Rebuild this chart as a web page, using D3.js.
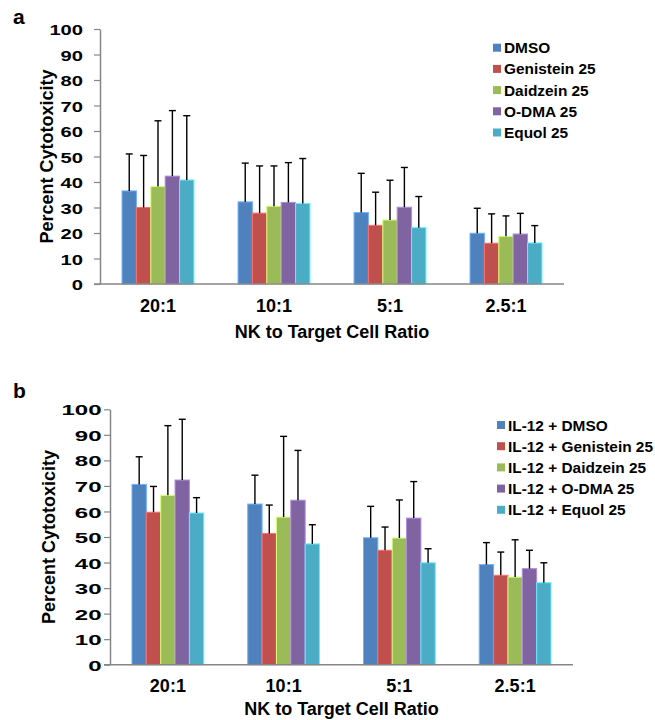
<!DOCTYPE html>
<html>
<head>
<meta charset="utf-8">
<script src="https://cdn.jsdelivr.net/npm/d3@7"></script>
<style>
  body { margin: 0; background: #fff; }
  svg { display: block; font-family: "Liberation Sans", Arial, sans-serif; font-weight: bold; }
</style>
</head>
<body>
<svg id="chart" width="655" height="720"></svg>
<script>
const ratios = ['20:1', '10:1', '5:1', '2.5:1'];
const yTicks = [0, 10, 20, 30, 40, 50, 60, 70, 80, 90, 100];
const colors = ['#4F81BD', '#C0504D', '#9BBB59', '#8064A2', '#4BACC6'];

// panel a
const namesA = ['DMSO', 'Genistein 25', 'Daidzein 25', 'O-DMA 25', 'Equol 25'];
const meansA = [
  [36.5, 32.2, 28.0, 19.9],
  [30.0, 27.8, 23.0, 16.0],
  [38.2, 30.5, 25.1, 18.7],
  [42.3, 32.0, 30.1, 19.6],
  [40.8, 31.6, 22.1, 16.1]
];
const sdA = [
  [14.5, 15.2, 15.4, 9.8],
  [20.4, 18.5, 13.0, 11.5],
  [25.8, 15.8, 15.6, 8.0],
  [25.7, 15.6, 15.6, 8.1],
  [25.2, 17.6, 12.2, 6.8]
];

// panel b
const namesB = ['IL-12 + DMSO', 'IL-12 + Genistein 25', 'IL-12 + Daidzein 25', 'IL-12 + O-DMA 25', 'IL-12 + Equol 25'];
const meansB = [
  [70.6, 62.9, 49.7, 39.2],
  [59.7, 51.4, 44.8, 35.0],
  [66.3, 57.8, 49.6, 34.3],
  [72.3, 64.4, 57.4, 37.6],
  [59.4, 47.3, 39.9, 32.1]
];
const sdB = [
  [10.8, 11.3, 12.3, 8.6],
  [10.1, 11.1, 9.1, 9.1],
  [27.3, 31.6, 14.9, 14.6],
  [23.8, 19.5, 14.3, 7.2],
  [6.0, 7.5, 5.5, 7.8]
];

const svg = d3.select('#chart');

function drawPanel(p) {
  const x0 = d3.scaleBand()
    .domain(ratios)
    .range([p.left, p.right])
    .paddingInner(0.38)
    .paddingOuter(0.19);

  const x1 = d3.scaleBand()
    .domain(p.names)
    .range([0, x0.bandwidth()]);

  const y = d3.scaleLinear()
    .domain([0, 100])
    .range([p.bottom, p.top]);

  const g = svg.append('g');

  // panel letter
  g.append('text')
    .attr('x', 13).attr('y', p.letterY)
    .attr('font-size', 21)
    .text(p.letter);

  // y axis
  const yAxis = g.append('g')
    .attr('transform', `translate(${p.left},0)`)
    .call(d3.axisLeft(y).tickValues(yTicks).tickSize(6).tickSizeOuter(0));
  yAxis.select('.domain').attr('stroke', '#868686').attr('stroke-width', 1.5);
  yAxis.selectAll('.tick line').attr('stroke', '#868686').attr('stroke-width', 1.2);
  yAxis.selectAll('.tick text')
    .attr('x', 0)
    .attr('dy', '0.36em')
    .attr('fill', '#000')
    .attr('font-size', 15.5)
    .attr('font-family', '"Liberation Sans", Arial, sans-serif')
    .attr('font-weight', 'bold')
    .attr('transform', `translate(${-p.tickGap},0) scale(${p.tickStretch},1)`);

  // bars
  const groups = g.append('g')
    .selectAll('g')
    .data(p.names)
    .join('g');

  groups.selectAll('rect')
    .data((name, si) => ratios.map((r, ri) => ({ r, name, si, v: p.means[si][ri] })))
    .join('rect')
      .attr('x', d => x0(d.r) + x1(d.name))
      .attr('y', d => y(d.v))
      .attr('width', x1.bandwidth())
      .attr('height', d => y(0) - y(d.v))
      .attr('fill', d => colors[d.si])
      .attr('stroke', d => d3.color(colors[d.si]).brighter(0.9))
      .attr('stroke-width', 1);

  // error bars
  const err = g.append('g')
    .attr('stroke', '#000')
    .attr('stroke-width', 1.4);

  p.names.forEach((name, si) => {
    ratios.forEach((r, ri) => {
      const cx = x0(r) + x1(name) + x1.bandwidth() / 2;
      const m = p.means[si][ri];
      const t = m + p.sd[si][ri];
      err.append('line')
        .attr('x1', cx).attr('x2', cx)
        .attr('y1', y(m)).attr('y2', y(t));
      err.append('line')
        .attr('x1', cx - 3.5).attr('x2', cx + 3.5)
        .attr('y1', y(t)).attr('y2', y(t));
    });
  });

  // x axis
  g.append('line')
    .attr('x1', p.left - 6).attr('x2', p.right)
    .attr('y1', y(0)).attr('y2', y(0))
    .attr('stroke', '#868686')
    .attr('stroke-width', 1.5);

  g.append('g')
    .selectAll('text')
    .data(ratios)
    .join('text')
      .attr('x', d => x0(d) + x0.bandwidth() / 2)
      .attr('y', p.catY)
      .attr('text-anchor', 'middle')
      .attr('font-size', 18)
      .text(d => d);

  g.append('text')
    .attr('x', (p.left + p.right) / 2)
    .attr('y', p.titleY)
    .attr('text-anchor', 'middle')
    .attr('font-size', 18)
    .text('NK to Target Cell Ratio');

  g.append('text')
    .attr('transform', `translate(${p.yTitleX},${(p.top + p.bottom) / 2}) rotate(-90)`)
    .attr('text-anchor', 'middle')
    .attr('font-size', 18)
    .text('Percent Cytotoxicity');

  // legend
  const leg = g.append('g')
    .selectAll('g')
    .data(p.names)
    .join('g')
      .attr('transform', (d, i) => `translate(${p.legX},${p.legY + i * 21.2})`);
  leg.append('rect')
    .attr('x', 0).attr('y', -4)
    .attr('width', 8).attr('height', 8)
    .attr('fill', (d, i) => colors[i]);
  leg.append('text')
    .attr('x', 11)
    .attr('dy', '0.36em')
    .attr('font-size', 15.4)
    .text(d => d);
}

drawPanel({
  letter: 'a', letterY: 24,
  names: namesA, means: meansA, sd: sdA,
  left: 100, right: 564, top: 29, bottom: 284,
  tickGap: 17, tickStretch: 1.3,
  catY: 312, titleY: 338, yTitleX: 53,
  legX: 493, legY: 47.7
});

drawPanel({
  letter: 'b', letterY: 398,
  names: namesB, means: meansB, sd: sdB,
  left: 110, right: 573, top: 409.3, bottom: 664.7,
  tickGap: 8.5, tickStretch: 1.55,
  catY: 692, titleY: 715, yTitleX: 55,
  legX: 497, legY: 425
});
</script>
</body>
</html>
